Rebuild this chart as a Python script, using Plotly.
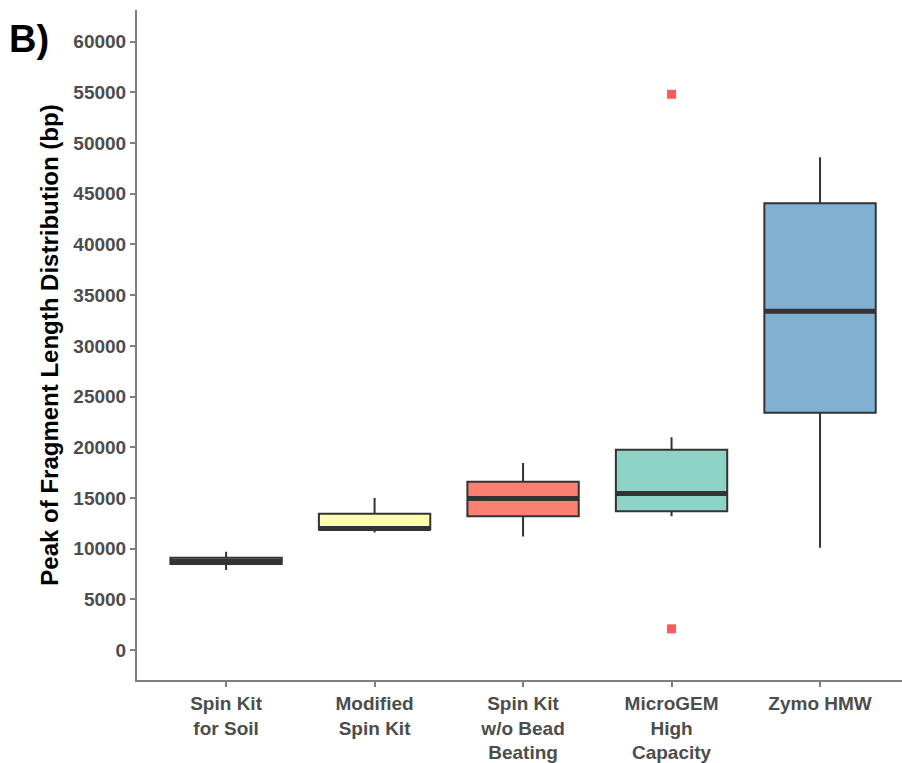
import plotly.graph_objects as go

categories = ["Spin Kit<br>for Soil", "Modified<br>Spin Kit", "Spin Kit<br>w/o Bead<br>Beating",
              "MicroGEM<br>High<br>Capacity", "Zymo HMW"]
q1 = [8500, 11900, 13200, 13700, 23400]
median = [8750, 12000, 14950, 15450, 33400]
q3 = [9100, 13450, 16600, 19750, 44050]
lower = [7900, 11600, 11200, 13200, 10100]
upper = [9700, 15000, 18450, 21000, 48600]
fills = ["#BEBADA", "#FFFFB3", "#FB8072", "#8DD3C7", "#80B1D3"]
outlier_cat = [3, 3]
outlier_val = [54800, 2100]
yticks = list(range(0, 60001, 5000))

BOXW = 0.75
LINE = "#333333"
FONT = "Liberation Sans, Arial, sans-serif"
fig = go.Figure()
for i in range(len(categories)):
    fig.add_trace(go.Box(
        x=[i], q1=[q1[i]], median=[median[i]], q3=[q3[i]],
        lowerfence=[lower[i]], upperfence=[upper[i]],
        width=BOXW, whiskerwidth=0, boxpoints=False,
        fillcolor=fills[i], line=dict(color=LINE, width=2),
        showlegend=False, hoverinfo="skip"))

mx, my = [], []
for i, m in enumerate(median):
    mx += [i - BOXW / 2, i + BOXW / 2, None]
    my += [m, m, None]
fig.add_trace(go.Scatter(x=mx, y=my, mode="lines", line=dict(color=LINE, width=5),
                         showlegend=False, hoverinfo="skip"))
fig.add_trace(go.Scatter(x=outlier_cat, y=outlier_val, mode="markers",
                         marker=dict(symbol="square", size=9, color="rgba(255,0,0,0.65)",
                                     line=dict(width=0)),
                         showlegend=False, hoverinfo="skip"))

tickfont = dict(family=FONT, size=19, color="#4D4D4D")
fig.update_layout(
    width=902, height=763,
    margin=dict(l=137, r=0, t=10, b=80),
    paper_bgcolor="white", plot_bgcolor="white",
    font=dict(family=FONT),
    xaxis=dict(range=[-0.6, 4.552], tickmode="array", tickvals=list(range(len(categories))),
               ticktext=[f"<b>{c}</b>" for c in categories],
               showgrid=False, zeroline=False, showline=True, linecolor="#7F7F7F", linewidth=2,
               ticks="outside", ticklen=5, tickwidth=1.5, tickcolor="#7F7F7F",
               tickfont=tickfont),
    yaxis=dict(range=[-2943, 63110], tickmode="array", tickvals=yticks,
               ticktext=[f"<b>{v}</b>" for v in yticks],
               showgrid=False, zeroline=False, showline=True, linecolor="#7F7F7F", linewidth=2,
               ticks="outside", ticklen=5, tickwidth=1.5, tickcolor="#7F7F7F",
               tickfont=tickfont,
               title=dict(text="<b>Peak of Fragment Length Distribution (bp)</b>",
                          font=dict(family=FONT, size=24, color="black"),
                          standoff=8)),
)
fig.add_annotation(text="<b>B)</b>", xref="paper", yref="paper",
                   x=(7 - 137) / 765, y=(683 - 39) / 673, xanchor="left", yanchor="middle",
                   showarrow=False, font=dict(family=FONT, size=38, color="black"))
fig.write_html("out.html")
